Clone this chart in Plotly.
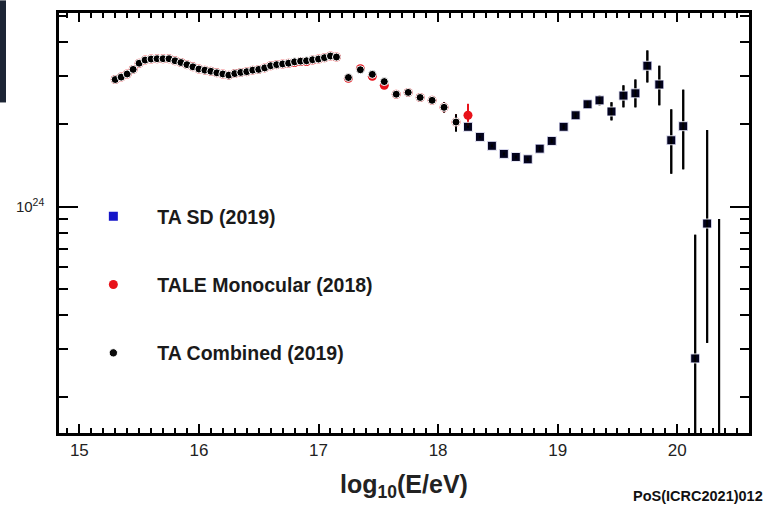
import plotly.graph_objects as go

# Flux values E^3 J in units of 1e24 eV^2 m^-2 s^-1 sr^-1
SCALE = 1e24

# TALE monocular spectrum (2018)
tale_log_e = [15.30, 15.35, 15.40, 15.45, 15.50, 15.55, 15.60, 15.65, 15.70, 15.75,
              15.80, 15.85, 15.90, 15.95, 16.00, 16.05, 16.10, 16.15, 16.20, 16.25,
              16.30, 16.35, 16.40, 16.45, 16.50, 16.55, 16.60, 16.65, 16.70, 16.75,
              16.80, 16.85, 16.90, 16.95, 17.00, 17.05, 17.10, 17.15,
              17.25, 17.35, 17.45, 17.55, 17.65, 17.75, 17.85, 17.95, 18.05, 18.15, 18.25]
tale_flux = [2.92, 2.98, 3.06, 3.18, 3.35, 3.44, 3.47, 3.48, 3.48, 3.48,
             3.42, 3.37, 3.31, 3.25, 3.19, 3.16, 3.13, 3.09, 3.06, 3.03,
             3.07, 3.10, 3.12, 3.16, 3.18, 3.22, 3.28, 3.31, 3.33, 3.35,
             3.37, 3.40, 3.40, 3.44, 3.47, 3.51, 3.56, 3.53,
             2.95, 3.20, 3.00, 2.78, 2.58, 2.62, 2.51, 2.45, 2.31, 2.04, 2.16]
tale_err = [0.01] * 38 + [0.02, 0.02, 0.03, 0.03, 0.04, 0.04, 0.05, 0.06, 0.10, 0.14, 0.22]

# TA combined spectrum (2019), below 10^18.2 eV
comb_log_e = [15.30, 15.35, 15.40, 15.45, 15.50, 15.55, 15.60, 15.65, 15.70, 15.75,
              15.80, 15.85, 15.90, 15.95, 16.00, 16.05, 16.10, 16.15, 16.20, 16.25,
              16.30, 16.35, 16.40, 16.45, 16.50, 16.55, 16.60, 16.65, 16.70, 16.75,
              16.80, 16.85, 16.90, 16.95, 17.00, 17.05, 17.10, 17.15,
              17.25, 17.35, 17.45, 17.55, 17.65, 17.75, 17.85, 17.95, 18.05, 18.15]
comb_flux = [2.92, 2.98, 3.06, 3.18, 3.35, 3.44, 3.47, 3.48, 3.48, 3.48,
             3.42, 3.37, 3.31, 3.25, 3.19, 3.16, 3.13, 3.09, 3.06, 3.03,
             3.07, 3.10, 3.12, 3.16, 3.18, 3.22, 3.28, 3.31, 3.33, 3.35,
             3.39, 3.41, 3.42, 3.45, 3.47, 3.51, 3.56, 3.53,
             2.97, 3.17, 3.05, 2.87, 2.58, 2.62, 2.51, 2.45, 2.31, 2.04]
comb_err_plus = [0.01] * 38 + [0.02, 0.02, 0.03, 0.03, 0.04, 0.04, 0.05, 0.06, 0.10, 0.14]
comb_err_minus = [0.01] * 38 + [0.02, 0.02, 0.03, 0.03, 0.04, 0.04, 0.05, 0.06, 0.10, 0.16]

# TA SD spectrum (2019)
sd_log_e = [18.25, 18.35, 18.45, 18.55, 18.65, 18.75, 18.85, 18.95, 19.05, 19.15, 19.25,
            19.35, 19.45, 19.55, 19.65, 19.75, 19.85, 19.95, 20.05, 20.15, 20.25, 20.35]
sd_flux = [1.96, 1.80, 1.67, 1.56, 1.52, 1.49, 1.63, 1.74, 1.96, 2.16, 2.37,
           2.45, 2.23, 2.55, 2.60, 3.28, 2.80, 1.75, 1.97, 0.278, 0.867, 0.10]
sd_err_plus = [0.02, 0.02, 0.02, 0.02, 0.02, 0.02, 0.03, 0.03, 0.04, 0.05, 0.07,
               0.10, 0.18, 0.23, 0.32, 0.45, 0.48, 0.52, 0.71, 0.51, 1.04, 0.80]
sd_err_minus = [0.02, 0.02, 0.02, 0.02, 0.02, 0.02, 0.03, 0.03, 0.04, 0.05, 0.07,
                0.10, 0.16, 0.24, 0.29, 0.43, 0.45, 0.43, 0.60, 0.27, 0.55, 0.099]

x_tick_vals = [15, 16, 17, 18, 19, 20]
y_major_vals = [1e24]
y_major_text = ["10<sup>24</sup>"]
y_minor_vals = [2e23, 3e23, 4e23, 5e23, 6e23, 7e23, 8e23, 9e23, 2e24, 3e24, 4e24, 5e24]


def scaled(vals):
    return [v * SCALE for v in vals]


BLUE = "#1515c8"
RED = "#e8121a"
BLACK = "#000000"
FONT = "Liberation Sans, Arial, Helvetica, sans-serif"

fig = go.Figure()

fig.add_trace(go.Scatter(
    x=sd_log_e, y=scaled(sd_flux), mode="markers", name="<b>TA SD (2019)</b>",
    marker=dict(symbol="square", size=9, color=BLUE),
    error_y=dict(type="data", symmetric=False, array=scaled(sd_err_plus),
                 arrayminus=scaled(sd_err_minus), color=BLACK, thickness=2, width=0),
    legendgroup="sd",
))

fig.add_trace(go.Scatter(
    x=tale_log_e, y=scaled(tale_flux), mode="markers", name="<b>TALE Monocular (2018)</b>",
    marker=dict(symbol="circle", size=9, color=RED),
    error_y=dict(type="data", array=scaled(tale_err), color=RED, thickness=2, width=0),
    legendgroup="tale",
))

# Combined spectrum: hybrid/monocular part as circles, SD part above 10^18.2 eV as squares
c_x = comb_log_e + sd_log_e
c_y = scaled(comb_flux + sd_flux)
c_ep = scaled(comb_err_plus + sd_err_plus)
c_em = scaled(comb_err_minus + sd_err_minus)
c_sym = ["circle"] * len(comb_log_e) + ["square"] * len(sd_log_e)
c_size = [8] * len(comb_log_e) + [9] * len(sd_log_e)
c_op = [1.0] * len(comb_log_e) + [0.85] * len(sd_log_e)

fig.add_trace(go.Scatter(
    x=c_x, y=c_y, mode="markers", name="<b>TA Combined (2019)</b>",
    marker=dict(symbol=c_sym, size=c_size, color=BLACK, opacity=c_op),
    error_y=dict(type="data", symmetric=False, array=c_ep, arrayminus=c_em,
                 color=BLACK, thickness=2, width=0),
    legendgroup="comb",
))

axis_common = dict(
    showline=True, linecolor=BLACK, linewidth=2.5, mirror="allticks",
    ticks="inside", tickcolor=BLACK, tickwidth=1.8,
    showgrid=False, zeroline=False,
)

fig.update_layout(
    width=769, height=511,
    margin=dict(l=59, r=20, t=10, b=78),
    paper_bgcolor="white", plot_bgcolor="white",
    font=dict(family=FONT, color="#222222"),
    showlegend=True,
    legend=dict(
        x=0.015, y=0.562, xanchor="left", yanchor="top",
        bgcolor="rgba(0,0,0,0)", borderwidth=0,
        font=dict(size=19.5, family=FONT, color="#1a1a1a"),
        itemwidth=78, tracegroupgap=40, traceorder="grouped",
    ),
    xaxis=dict(
        axis_common,
        range=[14.83, 20.6], tickmode="array", tickvals=x_tick_vals,
        ticklen=9,
        minor=dict(dtick=0.1, tick0=15, ticks="inside", ticklen=5, tickwidth=1.5, tickcolor=BLACK),
        tickfont=dict(size=17, color="#222222"),
        title=dict(text="<b>log<sub>10</sub>(E/eV)</b>", font=dict(size=25, color="#222222"), standoff=17),
    ),
    yaxis=dict(
        axis_common,
        type="log", range=[23.171, 24.709],
        tickmode="array", tickvals=y_major_vals, ticktext=y_major_text,
        ticklen=19, ticklabelstandoff=9,
        minor=dict(tickmode="array", tickvals=y_minor_vals, ticks="inside", ticklen=9,
                   tickwidth=1.8, tickcolor=BLACK),
        tickfont=dict(size=15, color="#222222"),
    ),
    annotations=[dict(
        text="<b>PoS(ICRC2021)012</b>", xref="paper", yref="paper",
        x=1.0232, y=-0.151, xanchor="right", yanchor="middle", showarrow=False,
        font=dict(size=14.5, family=FONT, color="#111111"),
    )],
    shapes=[dict(
        type="rect", xref="paper", yref="paper",
        x0=-0.0855, x1=-0.0768, y0=0.787, y1=1.03,
        fillcolor="#1d2535", line=dict(width=0), layer="above",
    )],
)

fig.write_html("out.html")
